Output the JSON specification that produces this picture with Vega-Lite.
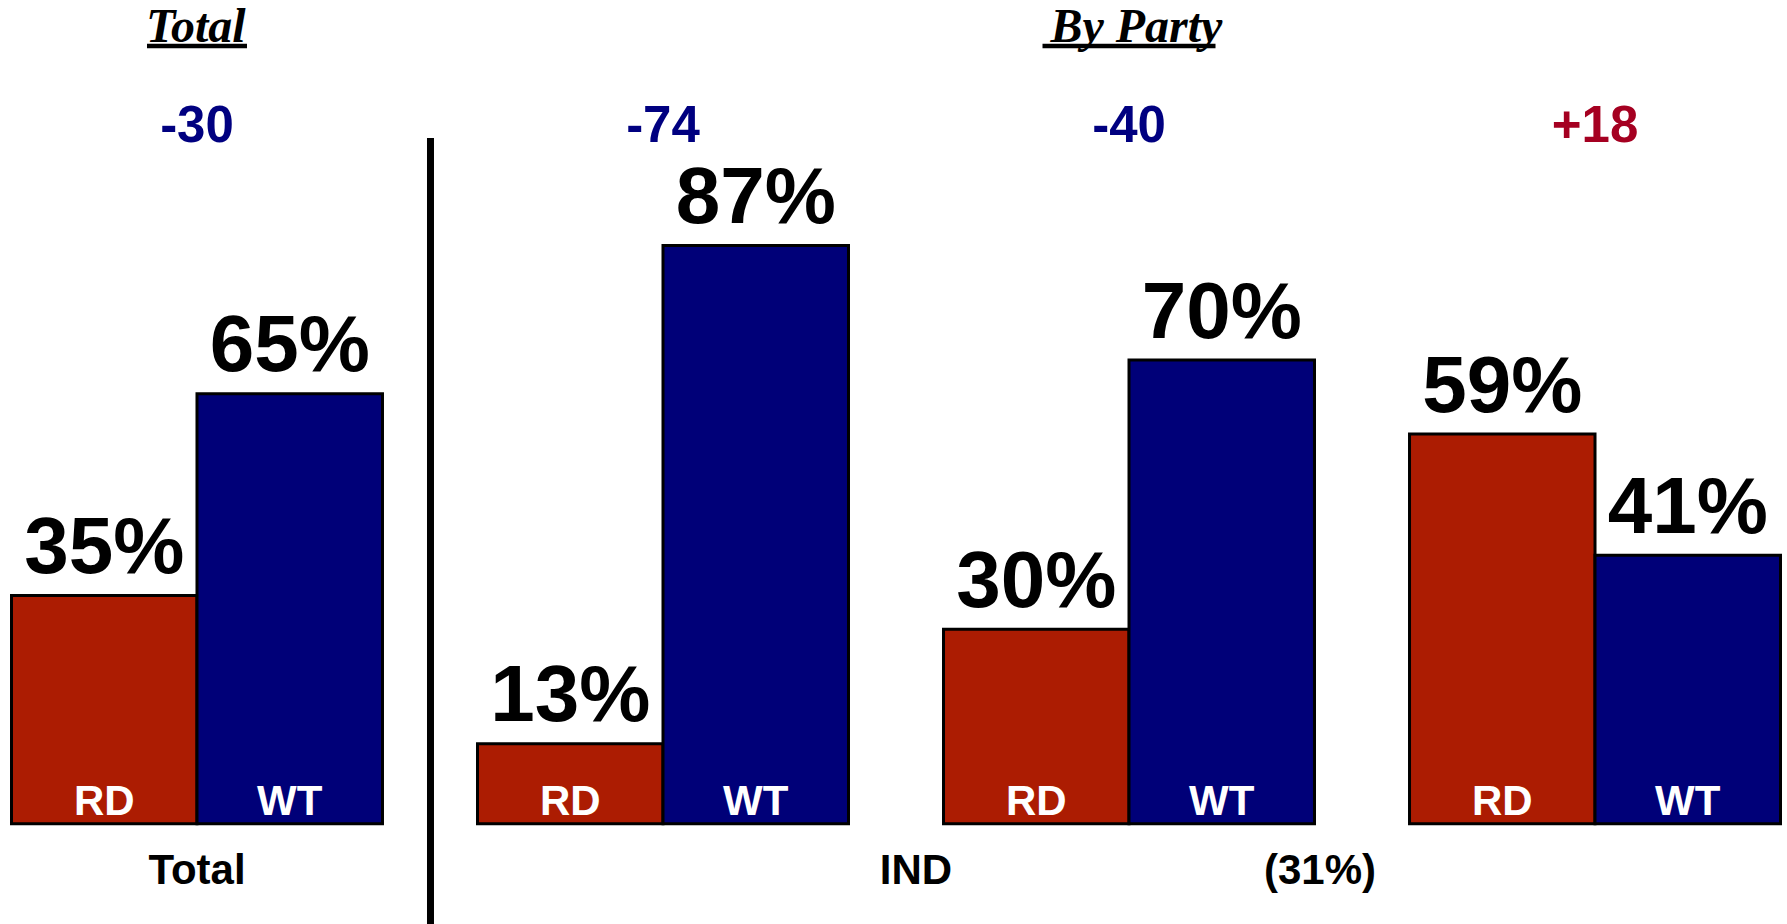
{
  "$schema": "https://vega.github.io/schema/vega-lite/v6.json",
  "width": 1787,
  "height": 924,
  "autosize": {"type": "none"},
  "padding": 0,
  "background": "white",
  "config": {
    "view": {"stroke": null},
    "text": {"font": "Liberation Sans", "fontWeight": "bold"}
  },
  "datasets": {
    "bars": [
      {"group": "Total", "party": "RD", "pct": 35},
      {"group": "Total", "party": "WT", "pct": 65},
      {"group": "DEM", "party": "RD", "pct": 13},
      {"group": "DEM", "party": "WT", "pct": 87},
      {"group": "IND", "party": "RD", "pct": 30},
      {"group": "IND", "party": "WT", "pct": 70},
      {"group": "REP", "party": "RD", "pct": 59},
      {"group": "REP", "party": "WT", "pct": 41}
    ],
    "diffs": [
      {"group": "Total", "diff": "-30", "lead": "WT"},
      {"group": "DEM", "diff": "-74", "lead": "WT"},
      {"group": "IND", "diff": "-40", "lead": "WT"},
      {"group": "REP", "diff": "+18", "lead": "RD"}
    ]
  },
  "layer": [
    {
      "data": {"name": "bars"},
      "mark": {"type": "bar", "stroke": "#000000", "strokeWidth": 3},
      "encoding": {
        "x": {"field": "group", "type": "nominal", "axis": null,
              "scale": {"domain": ["Total", "DEM", "IND", "REP"], "paddingInner": 0.2039, "paddingOuter": 0.01931, "align": 0.639}},
        "xOffset": {"field": "party", "type": "nominal", "scale": {"domain": ["RD", "WT"], "paddingInner": 0, "paddingOuter": 0}},
        "y": {"field": "pct", "type": "quantitative", "axis": null,
              "scale": {"domain": [-13.8, 123.49], "nice": false, "zero": false}},
        "y2": {"datum": 1.1},
        "color": {"field": "party", "type": "nominal", "legend": null,
                  "scale": {"domain": ["RD", "WT"], "range": ["#AC1C02", "#000078"]}}
      }
    },
    {
      "data": {"name": "bars"},
      "transform": [{"calculate": "datum.pct + '%'", "as": "label"}],
      "mark": {"type": "text", "fontSize": 80, "baseline": "alphabetic", "align": "center", "dy": -22.5, "color": "#000000"},
      "encoding": {
        "x": {"field": "group", "type": "nominal"},
        "xOffset": {"field": "party", "type": "nominal"},
        "y": {"field": "pct", "type": "quantitative"},
        "text": {"field": "label"}
      }
    },
    {
      "data": {"name": "bars"},
      "mark": {"type": "text", "fontSize": 42, "baseline": "alphabetic", "align": "center", "dy": -9, "color": "#FFFFFF"},
      "encoding": {
        "x": {"field": "group", "type": "nominal"},
        "xOffset": {"field": "party", "type": "nominal"},
        "y": {"datum": 1.1},
        "text": {"field": "party"}
      }
    },
    {
      "data": {"name": "diffs"},
      "mark": {"type": "text", "fontSize": 51, "baseline": "alphabetic", "align": "center"},
      "encoding": {
        "x": {"field": "group", "type": "nominal"},
        "y": {"datum": 102.39},
        "text": {"field": "diff"},
        "color": {"condition": {"test": "datum.lead === 'RD'", "value": "#A50021"}, "value": "#000080"}
      }
    },
    {
      "data": {"values": [{"group": "Total", "label": "Total"}]},
      "mark": {"type": "text", "fontSize": 42, "baseline": "alphabetic", "align": "center", "color": "#000000"},
      "encoding": {
        "x": {"field": "group", "type": "nominal", "bandPosition": 0.5},
        "y": {"datum": -7.86},
        "text": {"field": "label"}
      }
    },
    {
      "data": {"values": [{"group": "IND", "label": "IND"}]},
      "mark": {"type": "text", "fontSize": 42, "baseline": "alphabetic", "align": "center", "color": "#000000"},
      "encoding": {
        "x": {"field": "group", "type": "nominal", "bandPosition": -0.0741},
        "y": {"datum": -7.86},
        "text": {"field": "label"}
      }
    },
    {
      "data": {"values": [{"group": "IND", "label": "(31%)"}]},
      "mark": {"type": "text", "fontSize": 42, "baseline": "alphabetic", "align": "center", "color": "#000000"},
      "encoding": {
        "x": {"field": "group", "type": "nominal", "bandPosition": 1.0148},
        "y": {"datum": -7.86},
        "text": {"field": "label"}
      }
    },
    {
      "data": {"values": [{"group": "Total", "label": "Total"}]},
      "mark": {"type": "text", "font": "Liberation Serif", "fontStyle": "italic", "fontWeight": "bold", "fontSize": 48, "baseline": "alphabetic", "align": "center", "color": "#000000"},
      "encoding": {
        "x": {"field": "group", "type": "nominal", "bandPosition": 0.497},
        "y": {"datum": 117.25},
        "text": {"field": "label"}
      }
    },
    {
      "data": {"values": [{"group": "IND", "label": "By Party"}]},
      "mark": {"type": "text", "font": "Liberation Serif", "fontStyle": "italic", "fontWeight": "bold", "fontSize": 48, "baseline": "alphabetic", "align": "center", "color": "#000000"},
      "encoding": {
        "x": {"field": "group", "type": "nominal", "bandPosition": 0.52},
        "y": {"datum": 117.25},
        "text": {"field": "label"}
      }
    },
    {
      "data": {"values": [{"group": "Total"}]},
      "mark": {"type": "tick", "size": 100, "thickness": 4.5, "color": "#000000", "opacity": 1},
      "encoding": {
        "x": {"field": "group", "type": "nominal", "bandPosition": 0.4919},
        "y": {"datum": 116.66}
      }
    },
    {
      "data": {"values": [{"group": "IND"}]},
      "mark": {"type": "tick", "size": 173, "thickness": 4.5, "color": "#000000", "opacity": 1},
      "encoding": {
        "x": {"field": "group", "type": "nominal", "bandPosition": 0.52},
        "y": {"datum": 116.66}
      }
    },
    {
      "data": {"values": [{"group": "Total"}]},
      "mark": {"type": "rule", "strokeWidth": 7, "color": "#000000"},
      "encoding": {
        "x": {"field": "group", "type": "nominal", "bandPosition": 1.1294},
        "y": {"datum": 103},
        "y2": {"datum": -15}
      }
    }
  ]
}
